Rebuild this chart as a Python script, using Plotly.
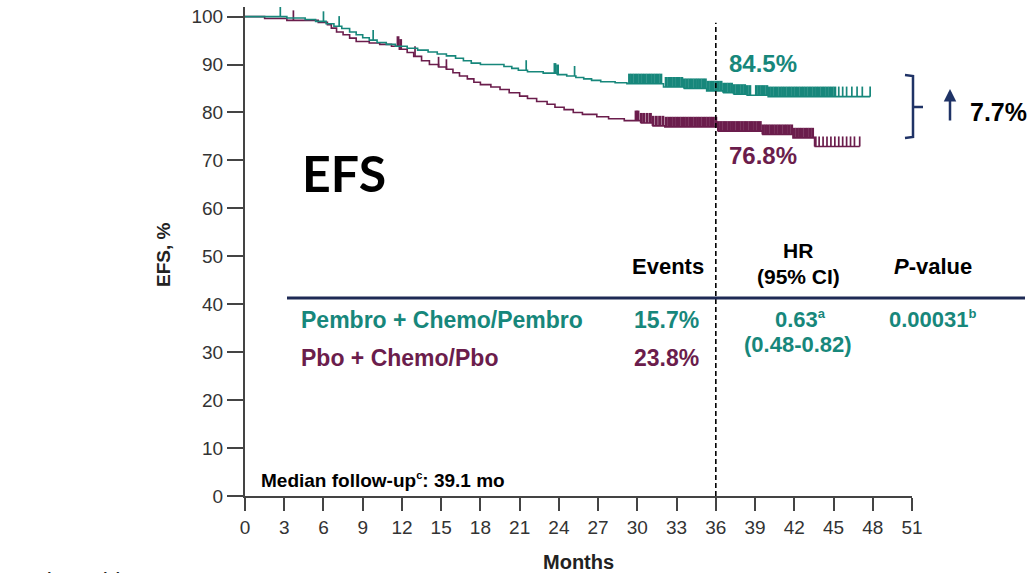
import numpy as np
import plotly.graph_objects as go

# ---------------- data ----------------
months_pem = [0, 3.2, 4.6, 5.4, 6.2, 6.8, 7.4, 8.0, 8.5, 9.0, 9.5, 10.1, 10.8, 11.5, 12.4, 13.2,
              14.0, 14.7, 15.4, 16.1, 16.7, 17.3, 18.0, 19.8, 20.4, 20.9, 21.6, 22.8, 23.9, 24.6,
              25.3, 25.9, 26.5, 27.2, 28.3, 29.2, 32.0, 33.6, 35.3, 36.6, 37.4, 38.4, 40.0]
efs_pem = [100, 99.7, 99.4, 99.0, 98.5, 98.0, 97.5, 96.8, 96.2, 95.6, 95.1, 94.6, 94.2, 93.8, 93.4, 93.0,
           92.6, 92.2, 91.8, 91.3, 90.8, 90.3, 90.0, 89.6, 89.2, 88.8, 88.5, 88.2, 87.9, 87.6,
           87.3, 87.0, 86.7, 86.4, 86.2, 86.0, 85.3, 85.0, 84.5, 84.1, 83.8, 83.6, 83.3]
last_pem = 47.8
censor_pem = [2.7, 6.0, 7.2, 9.8, 21.5, 23.7, 23.9, 25.2,
              29.4, 29.6, 29.8, 30.0, 30.2, 30.4, 30.6, 30.8, 31.0, 31.2, 31.4, 31.6, 31.8,
              32.2, 32.4, 32.6, 32.8, 33.0, 33.2, 33.4, 33.6, 33.8, 34.0, 34.2, 34.4, 34.6, 34.8,
              35.0, 35.2, 35.4, 35.6, 35.8, 36.0, 36.2, 36.4, 36.6, 36.8, 37.0, 37.2, 37.4, 37.6,
              37.8, 38.0, 38.2, 38.4, 38.6, 39.1, 39.3, 39.5, 39.7, 39.9, 40.1, 40.3, 40.5, 40.7,
              40.9, 41.1, 41.3, 41.5, 41.7, 41.9, 42.1, 42.3, 42.5, 42.7, 42.9, 43.1, 43.3, 43.5,
              43.7, 43.9, 44.1, 44.3, 44.5, 44.7, 44.9, 45.1,
              45.4, 45.7, 46.0, 46.4, 46.8, 47.2, 47.8]

months_pbo = [0, 1.5, 3.2, 5.6, 6.3, 6.6, 7.0, 7.5, 8.0, 8.5, 9.5, 10.3, 11.2, 11.8, 12.4, 12.9,
              13.5, 14.1, 14.8, 15.4, 15.9, 16.4, 17.0, 17.5, 18.0, 18.8, 19.5, 20.2, 21.0, 21.6,
              22.3, 23.1, 23.7, 24.4, 25.1, 25.8, 26.9, 27.8, 29.0, 30.3, 31.2, 32.1, 36.2, 39.6,
              41.9, 43.6]
efs_pbo = [100, 99.6, 99.2, 98.8, 98.3, 97.6, 96.8, 96.2, 95.5, 94.8, 94.5, 94.2, 93.8, 93.2, 92.5, 91.7,
           90.8, 90.0, 89.5, 89.0, 88.3, 87.6, 87.0, 86.3, 85.8, 85.3, 84.8, 84.1, 83.4, 82.9,
           82.3, 81.7, 81.1, 80.6, 80.0, 79.6, 79.1, 78.7, 78.3, 77.8, 77.2, 77.0, 76.1, 75.4,
           74.7, 72.9]
last_pbo = 47.0
censor_pbo = [3.7, 11.7, 11.9, 13.0, 14.8, 15.4,
              29.9, 30.05, 30.3, 30.5, 30.75, 31.0, 31.2, 31.45, 31.7, 31.95, 32.2, 32.4, 32.6,
              32.8, 33.0, 33.2, 33.4, 33.6, 33.8, 34.0, 34.2, 34.4, 34.6, 34.8, 35.0, 35.2, 35.4,
              35.6, 35.8, 36.0, 36.2, 36.4, 36.6, 36.8, 37.0, 37.2, 37.4, 37.6, 37.8, 38.0, 38.2,
              38.4, 38.6, 38.8, 39.0, 39.2, 39.4, 39.6, 39.8, 40.0, 40.2, 40.4, 40.6, 40.8, 41.0,
              41.2, 41.4, 41.6, 41.8, 42.0, 42.2, 42.4, 42.6, 42.8, 43.0, 43.2, 43.4, 43.6,
              43.9, 44.2, 44.5, 44.8, 45.1, 45.4, 45.7, 46.0, 46.3, 46.6, 47.0]

x_ticks = list(range(0, 52, 3))
y_ticks = list(range(0, 101, 10))
landmark_month = 36
label_pem = "84.5%"
label_pbo = "76.8%"

TEAL = "#17877B"
MAROON = "#6B1D4C"
NAVY = "#1F3366"
FONT = "Liberation Sans, Arial, sans-serif"


def km_xy(t, s, end):
    return list(t) + [end], list(s) + [s[-1]]


def censor_segments(t, s, c, dense, h=2.1):
    t = np.array(t)
    s = np.array(s)
    c = np.array(c)
    xs, ys = [], []
    for i, ct in enumerate(c):
        gaps = []
        if i > 0:
            gaps.append(ct - c[i - 1])
        if i < len(c) - 1:
            gaps.append(c[i + 1] - ct)
        is_dense = min(gaps) <= 0.26
        if is_dense != dense:
            continue
        v = s[np.searchsorted(t, ct, side="right") - 1]
        xs += [ct, ct, None]
        ys += [v, v + h, None]
    return xs, ys


fig = go.Figure()
for t, s, end, c, col in [(months_pbo, efs_pbo, last_pbo, censor_pbo, MAROON),
                          (months_pem, efs_pem, last_pem, censor_pem, TEAL)]:
    x, y = km_xy(t, s, end)
    fig.add_trace(go.Scatter(x=x, y=y, mode="lines", line=dict(color=col, width=1.6, shape="hv"),
                             showlegend=False, hoverinfo="skip", cliponaxis=False))
    for dense, w in [(False, 1.7), (True, 2.9)]:
        cx, cy = censor_segments(t, s, c, dense)
        fig.add_trace(go.Scatter(x=cx, y=cy, mode="lines", line=dict(color=col, width=w),
                                 showlegend=False, hoverinfo="skip", cliponaxis=False))

L, R, T, B = 245, 121, 7, 77
W, H = 1033, 573
pw, ph = W - L - R, H - T - B


def px(x):
    return (x - L) / pw


def py(y):
    return (H - B - y) / ph


def ann(text, x, y, size, color="black", xanchor="left", bold=True, family=FONT, yanchor="middle"):
    fig.add_annotation(text=f"<b>{text}</b>" if bold else text, x=px(x), y=py(y), xref="paper",
                       yref="paper", xanchor=xanchor, yanchor=yanchor, showarrow=False,
                       font=dict(size=size, color=color, family=family))


# dashed landmark line
fig.add_shape(type="line", x0=landmark_month, x1=landmark_month, y0=0, y1=98.7, xref="x", yref="y",
              line=dict(color="black", width=1.6, dash="5px,3px"))

ann(label_pem, 727, 63, 24, TEAL)
ann(label_pbo, 727, 155, 24, MAROON)
ann("EFS", 300, 173, 50, "black", family="Lato, sans-serif")

SUP = "<sup><span style='font-size:13px'>{}</span></sup>"

# table
ann("Events", 706, 266, 22, xanchor="right")
ann("HR", 798, 251, 21, xanchor="center")
ann("(95% CI)", 798, 277, 21, xanchor="center")
fig.add_annotation(text="<b><i>P</i>-value</b>", x=px(933), y=py(266), xref="paper", yref="paper",
                   showarrow=False, xanchor="center", yanchor="middle",
                   font=dict(size=22, color="black", family=FONT))
fig.add_shape(type="line", x0=px(287), x1=px(1025), y0=py(298), y1=py(298), xref="paper", yref="paper",
              line=dict(color="#1E2A55", width=3))
ann("Pembro + Chemo/Pembro", 299, 320, 23, TEAL)
ann("Pbo + Chemo/Pbo", 299, 358, 23, MAROON)
ann("15.7%", 701, 320, 23, TEAL, xanchor="right")
ann("23.8%", 701, 358, 23, MAROON, xanchor="right")
ann("0.63" + SUP.format("a"), 800, 319, 22, TEAL, xanchor="center")
ann("(0.48-0.82)", 798, 345, 22, TEAL, xanchor="center")
ann("0.00031" + SUP.format("b"), 933, 319, 22, TEAL, xanchor="center")

ann("Median follow-up" + "<sup><span style='font-size:11px'>c</span></sup>" + ": 39.1 mo", 259, 480, 19)

# bracket and difference
fig.add_shape(type="path",
              path=f"M {px(905)} {py(75)} L {px(913)} {py(76)} L {px(913)} {py(137)} L {px(905)} {py(138)} "
                   f"M {px(913)} {py(107)} L {px(923)} {py(107)}",
              xref="paper", yref="paper", line=dict(color=NAVY, width=2.5))
fig.add_annotation(x=px(950), y=py(89), ax=0, ay=33, xref="paper", yref="paper", axref="pixel",
                   ayref="pixel", showarrow=True, arrowhead=2, arrowsize=1, arrowwidth=2.5,
                   arrowcolor=NAVY, text="")
ann("7.7%", 968, 112, 25)

# axis titles
fig.add_annotation(text="<b>EFS, %</b>", x=px(163), y=py(255), xref="paper", yref="paper",
                   showarrow=False, textangle=-90, xanchor="center", yanchor="middle",
                   font=dict(size=19, color="#222", family=FONT))
ann("Months", 578, 562, 20, "#222", xanchor="center")
ann("Number at Risk", 12, 567, 15, "#222", yanchor="top")

fig.update_layout(
    width=W, height=H, margin=dict(l=L, r=R, t=T, b=B, autoexpand=False),
    plot_bgcolor="white", paper_bgcolor="white",
    xaxis=dict(range=[0, 51], tickvals=x_ticks, ticks="outside", ticklen=13, tickwidth=1.5,
               tickcolor="#444", showline=True, linecolor="#444", linewidth=2, showgrid=False,
               zeroline=False, tickfont=dict(size=19, color="#333", family=FONT)),
    yaxis=dict(range=[0, 102], tickvals=y_ticks, ticks="outside", ticklen=16, tickwidth=1.5,
               tickcolor="#444", showline=True, linecolor="#444", linewidth=2, showgrid=False,
               zeroline=False, tickfont=dict(size=19, color="#333", family=FONT)),
)

fig.write_html("out.html")
